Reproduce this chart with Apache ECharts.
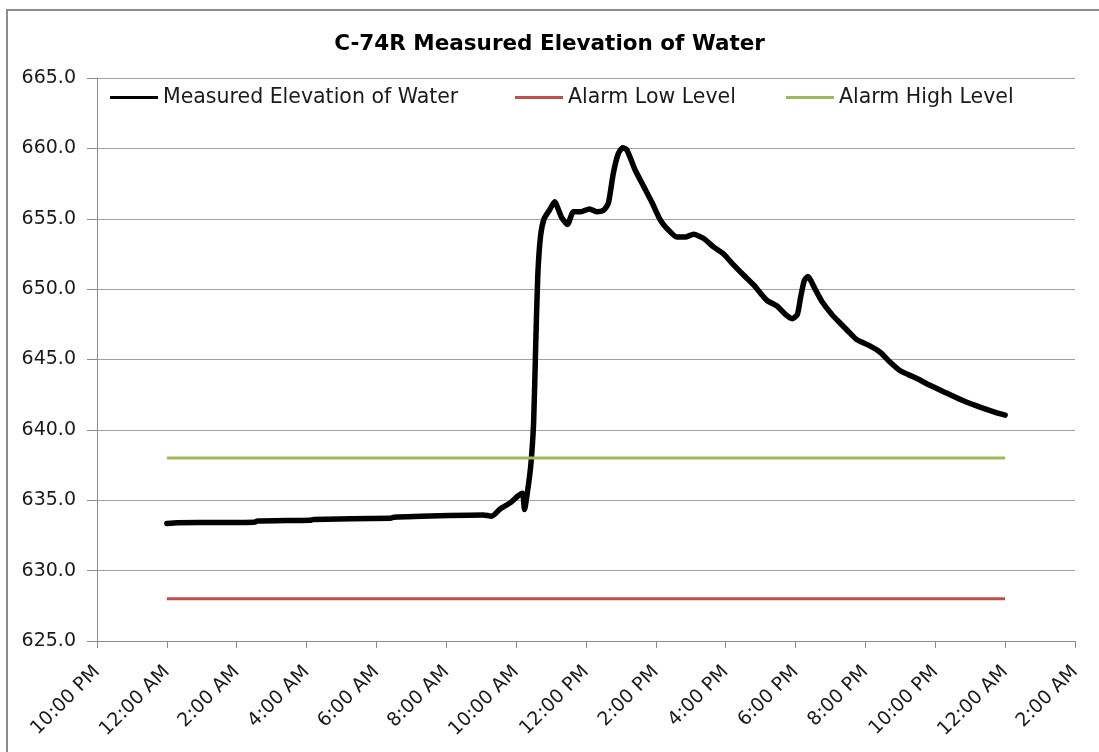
<!DOCTYPE html>
<html>
<head>
    <meta charset="utf-8" />
    <title>C-74R Measured Elevation of Water</title>
    <script src="https://cdn.jsdelivr.net/npm/echarts@6/dist/echarts.min.js"></script>
    <style>
        body { margin: 0; background: #fff; }
        #frame { position: absolute; left: 6px; top: 9px; width: 1100px; height: 760px; border: 2px solid #8c8c8c; }
        #main { position: absolute; left: 0; top: 0; width: 1099px; height: 752px; }
    </style>
</head>
<body>
    <div id="frame"></div>
    <div id="main"></div>
    <script type="text/javascript">
        // hours after midnight of the first day
        var hours = [0, 0.3, 1.5, 2.5, 2.6, 4.1, 4.2, 6.4, 6.5, 8.1, 9.05, 9.3, 9.55, 9.85, 10.05, 10.18, 10.24, 10.33,
            10.42, 10.5, 10.56, 10.62, 10.7, 10.8, 10.95, 11.1, 11.3, 11.47, 11.64, 11.85, 12.1, 12.3, 12.5, 12.64,
            12.78, 12.92, 13.05, 13.17, 13.4, 13.65, 13.9, 14.13, 14.32, 14.6, 14.84, 15.08, 15.37, 15.65, 15.94,
            16.23, 16.51, 16.8, 17.18, 17.47, 17.71, 17.9, 18.05, 18.15, 18.25, 18.35, 18.57, 18.76, 19.04, 19.33,
            19.52, 19.76, 20.1, 20.43, 20.67, 21.0, 21.43, 21.86, 22.34, 22.82, 23.3, 23.72, 24.0];
        var elevation = [633.35, 633.4, 633.42, 633.44, 633.52, 633.58, 633.64, 633.72, 633.8, 633.92, 633.96, 633.87,
            634.4, 634.85, 635.3, 635.5, 634.35, 635.7, 637.5, 640.5, 646.0, 651.0, 653.8, 655.0, 655.6, 656.2, 655.1,
            654.6, 655.5, 655.5, 655.7, 655.5, 655.6, 656.1, 658.2, 659.6, 660.05, 659.9, 658.5, 657.3, 656.1, 654.9,
            654.3, 653.7, 653.7, 653.9, 653.6, 653.0, 652.5, 651.7, 651.0, 650.3, 649.2, 648.8, 648.2, 647.9, 648.2,
            649.5, 650.6, 650.9, 649.95, 649.1, 648.2, 647.45, 646.97, 646.4, 646.0, 645.5, 644.9, 644.2, 643.7,
            643.15, 642.6, 642.05, 641.6, 641.25, 641.05];
        var alarmHours = [0, 24];
        var alarmLow = [628, 628];
        var alarmHigh = [638, 638];
        var seriesNames = ['Measured Elevation of Water', 'Alarm Low Level', 'Alarm High Level'];
        var seriesColors = ['#000000', '#c0504d', '#9bbb59'];

        function pairs(xs, ys) {
            var out = [];
            for (var i = 0; i < xs.length; i++) {
                out.push([xs[i], ys[i]]);
            }
            return out;
        }

        function clockLabel(h) {
            var t = ((h % 24) + 24) % 24;
            var hr = Math.floor(t);
            var ampm = hr < 12 ? 'AM' : 'PM';
            var h12 = hr % 12 === 0 ? 12 : hr % 12;
            return h12 + ':00 ' + ampm;
        }

        var font = 'DejaVu Sans';
        var legendLefts = [110, 515, 786];
        var legends = seriesNames.map(function (n, i) {
            return {
                data: [n],
                left: legendLefts[i],
                top: 87,
                padding: 0,
                icon: 'rect',
                itemWidth: 48,
                itemHeight: 3,
                textStyle: { fontFamily: font, fontSize: 20.5, color: '#1a1a1a' }
            };
        });

        var myChart = echarts.init(document.getElementById('main'));
        var option = {
            animation: false,
            title: {
                text: 'C-74R Measured Elevation of Water',
                left: 'center',
                top: 28,
                textStyle: { fontFamily: font, fontSize: 21.5, fontWeight: 'bold', color: '#000' }
            },
            legend: legends,
            grid: { left: 97, right: 24, top: 78, bottom: 111 },
            xAxis: {
                type: 'value',
                min: -2,
                max: 26,
                interval: 2,
                axisLine: { onZero: false, lineStyle: { color: '#8c8c8c' } },
                axisTick: { show: true, length: 7, lineStyle: { color: '#8c8c8c' } },
                splitLine: { show: false },
                axisLabel: {
                    rotate: 45,
                    margin: 28,
                    fontFamily: font,
                    fontSize: 19,
                    color: '#1a1a1a',
                    formatter: clockLabel
                }
            },
            yAxis: {
                type: 'value',
                min: 625,
                max: 665,
                interval: 5,
                axisLine: { show: true, onZero: false, lineStyle: { color: '#8c8c8c' } },
                axisTick: { show: true, length: 10, lineStyle: { color: '#8c8c8c' } },
                splitLine: { lineStyle: { color: '#a0a0a0' } },
                axisLabel: {
                    margin: 21,
                    fontFamily: font,
                    fontSize: 19,
                    color: '#1a1a1a',
                    formatter: function (v) { return v.toFixed(1); }
                }
            },
            series: [
                {
                    name: seriesNames[0],
                    type: 'line',
                    data: pairs(hours, elevation),
                    symbol: 'none',
                    smooth: 0.2,
                    z: 3,
                    itemStyle: { color: seriesColors[0] },
                    lineStyle: { color: seriesColors[0], width: 5.5, cap: 'round', join: 'round' }
                },
                {
                    name: seriesNames[1],
                    type: 'line',
                    data: pairs(alarmHours, alarmLow),
                    symbol: 'none',
                    itemStyle: { color: seriesColors[1] },
                    lineStyle: { color: seriesColors[1], width: 3 }
                },
                {
                    name: seriesNames[2],
                    type: 'line',
                    data: pairs(alarmHours, alarmHigh),
                    symbol: 'none',
                    itemStyle: { color: seriesColors[2] },
                    lineStyle: { color: seriesColors[2], width: 3 }
                }
            ]
        };
        myChart.setOption(option);
    </script>
</body>
</html>
